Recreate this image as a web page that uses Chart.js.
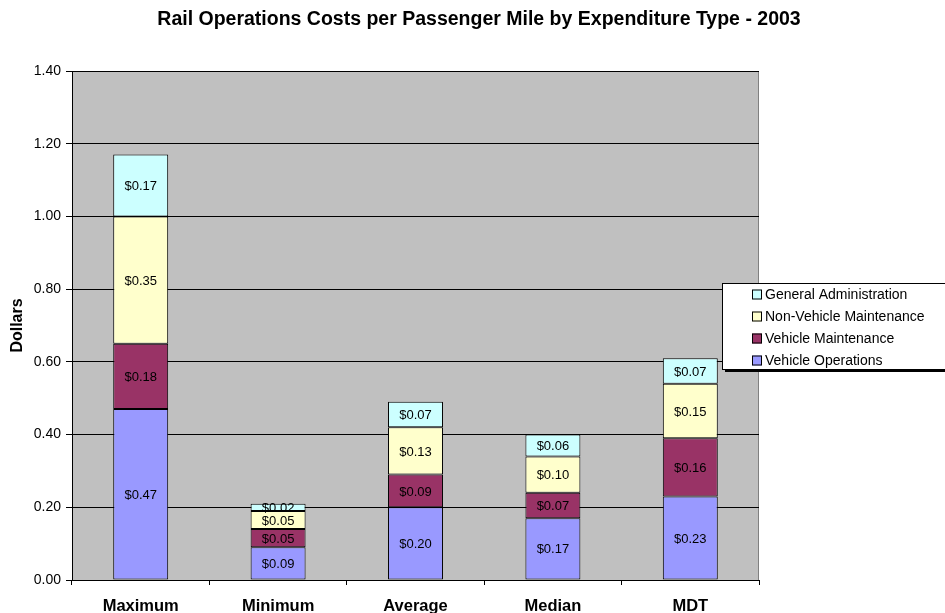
<!DOCTYPE html>
<html>
<head>
<meta charset="utf-8">
<script src="https://cdn.jsdelivr.net/npm/chart.js@4"></script>
<style>
  html, body { margin: 0; padding: 0; background: #fff; }
  #wrap { width: 945px; height: 613px; }
</style>
</head>
<body>
<div id="wrap"><canvas id="myChart" width="945" height="613"></canvas></div>
<script>
const categories = ['Maximum', 'Minimum', 'Average', 'Median', 'MDT'];
const vehicleOperations = [0.47, 0.09, 0.20, 0.17, 0.23];
const vehicleMaintenance = [0.18, 0.05, 0.09, 0.07, 0.16];
const nonVehicleMaintenance = [0.35, 0.05, 0.13, 0.10, 0.15];
const generalAdministration = [0.17, 0.02, 0.07, 0.06, 0.07];
const yTicks = [0, 0.2, 0.4, 0.6, 0.8, 1.0, 1.2, 1.4];

const FONT = 'Arial, "Liberation Sans", sans-serif';

// gray plot background plus title, axis title, segment values and legend box
const decorations = {
    id: 'decorations',
    beforeDraw(chart) {
        const { ctx, chartArea: a } = chart;
        ctx.save();
        ctx.fillStyle = '#C0C0C0';
        ctx.fillRect(a.left, a.top, a.right - a.left, a.bottom - a.top);
        // gray frame top/right
        ctx.strokeStyle = '#808080';
        ctx.lineWidth = 1;
        ctx.beginPath();
        ctx.moveTo(a.left, a.top + 0.5);
        ctx.lineTo(a.right - 0.5, a.top + 0.5);
        ctx.lineTo(a.right - 0.5, a.bottom);
        ctx.stroke();
        ctx.restore();
    },
    afterDraw(chart) {
        const { ctx, chartArea: a } = chart;
        ctx.save();

        // title
        ctx.fillStyle = '#000';
        ctx.font = 'bold 19.5px ' + FONT;
        ctx.textAlign = 'center';
        ctx.textBaseline = 'middle';
        ctx.fillText('Rail Operations Costs per Passenger Mile by Expenditure Type - 2003', 479, 20);

        // y axis title
        ctx.save();
        ctx.translate(18, (a.top + a.bottom) / 2);
        ctx.rotate(-Math.PI / 2);
        ctx.font = 'bold 16px ' + FONT;
        ctx.fillText('Dollars', 0, 0);
        ctx.restore();

        // values inside each stacked segment
        ctx.font = '13px ' + FONT;
        chart.data.datasets.forEach((ds, i) => {
            chart.getDatasetMeta(i).data.forEach((bar, j) => {
                const midY = (bar.y + bar.base) / 2;
                ctx.fillText('$' + ds.data[j].toFixed(2), bar.x, midY + 1);
            });
        });

        // legend box with drop shadow
        const lx = 722, ly = 283, lw = 226, lh = 86;
        ctx.fillStyle = '#000';
        ctx.fillRect(lx + 3, ly + 3, lw, lh);
        ctx.fillStyle = '#fff';
        ctx.fillRect(lx, ly, lw, lh);
        ctx.strokeStyle = '#000';
        ctx.lineWidth = 1;
        ctx.strokeRect(lx + 0.5, ly + 0.5, lw, lh);

        ctx.textAlign = 'left';
        ctx.font = '14px ' + FONT;
        const order = chart.data.datasets.slice().reverse();
        order.forEach((ds, k) => {
            const cy = 294.5 + k * 22;
            ctx.fillStyle = ds.backgroundColor;
            ctx.fillRect(752, cy - 5, 10, 10);
            ctx.strokeStyle = '#000';
            ctx.strokeRect(752.5, cy - 4.5, 9, 9);
            ctx.fillStyle = '#000';
            ctx.fillText(ds.label, 765, cy + 1);
        });
        ctx.restore();
    }
};

const ctx = document.getElementById('myChart').getContext('2d');

const segment = (label, data, color) => ({
    label: label,
    data: data,
    backgroundColor: color,
    borderColor: '#000000',
    borderWidth: 1,
    borderSkipped: false,
    categoryPercentage: 1.0,
    barPercentage: 0.4
});

const myChart = new Chart(ctx, {
    type: 'bar',
    data: {
        labels: categories,
        datasets: [
            segment('Vehicle Operations', vehicleOperations, '#9999FF'),
            segment('Vehicle Maintenance', vehicleMaintenance, '#993366'),
            segment('Non-Vehicle Maintenance', nonVehicleMaintenance, '#FFFFCC'),
            segment('General Administration', generalAdministration, '#CCFFFF')
        ]
    },
    options: {
        responsive: false,
        animation: false,
        layout: {
            padding: { top: 71, right: 186, bottom: 0, left: 0 }
        },
        scales: {
            x: {
                stacked: true,
                afterFit(scale) { scale.height = 33; },
                grid: {
                    offset: true,
                    drawOnChartArea: false,
                    drawTicks: true,
                    tickLength: 5,
                    color: '#000000'
                },
                border: { color: '#000000', width: 1 },
                ticks: {
                    color: '#000000',
                    padding: 12,
                    font: { family: FONT, size: 16.5, weight: 'bold' }
                }
            },
            y: {
                stacked: true,
                min: 0,
                max: 1.4,
                afterFit(scale) { scale.width = 72; },
                afterBuildTicks(scale) {
                    scale.ticks = yTicks.map(v => ({ value: v }));
                },
                grid: {
                    color: '#000000',
                    tickLength: 6,
                    drawTicks: true
                },
                border: { color: '#000000', width: 1 },
                ticks: {
                    color: '#000000',
                    padding: 5,
                    font: { family: FONT, size: 14 },
                    callback: v => Number(v).toFixed(2)
                }
            }
        },
        plugins: {
            legend: { display: false },
            title: { display: false },
            tooltip: { enabled: false }
        }
    },
    plugins: [decorations]
});
</script>
</body>
</html>
